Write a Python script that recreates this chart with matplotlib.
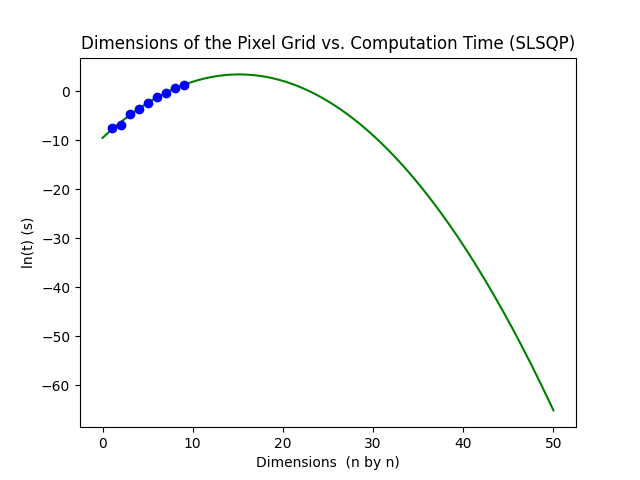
import numpy as np
import matplotlib
matplotlib.use("Agg")
import matplotlib.pyplot as plt

dims = [1, 2, 3, 4, 5, 6, 7, 8, 9]
log_times = [-7.5, -6.9, -4.7, -3.6, -2.3, -1.2, -0.3, 0.7, 1.2]

coef = np.polyfit(dims, log_times, 2)
xs = np.linspace(0, 50, 200)

fig, ax = plt.subplots(figsize=(6.4, 4.8), dpi=100)
ax.plot(xs, np.polyval(coef, xs), color="green")
ax.plot(dims, log_times, "o", color="blue")
ax.set_title("Dimensions of the Pixel Grid vs. Computation Time (SLSQP)")
ax.set_xlabel("Dimensions  (n by n)")
ax.set_ylabel("ln(t) (s)")
print(coef, np.polyval(coef, [0, 50]))
fig.savefig("out.png")
